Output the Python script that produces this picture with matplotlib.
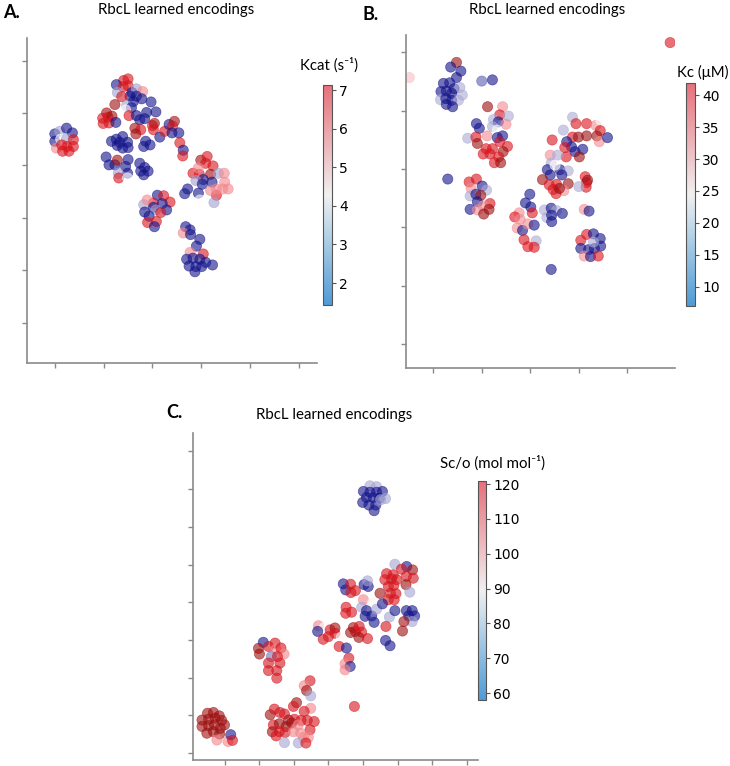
import matplotlib
matplotlib.use("Agg")
import matplotlib.pyplot as plt
from matplotlib.colors import LinearSegmentedColormap, Normalize
from matplotlib.cm import ScalarMappable

# ---- Panel A: Kcat (s-1) ----
kcat_x = [
    0.00, 0.10, 0.24, 0.36, 0.00, 0.12, 0.24, 0.38, 0.03, 0.14, 0.25, 0.38, 0.16, 0.29,
    1.41, 1.50, 1.26, 1.40, 1.50, 1.28, 1.58, 1.67, 1.80, 1.54, 1.37, 1.67, 1.78, 1.61,
    1.97, 1.23, 1.47, 1.57, 1.45, 1.82, 1.88, 2.07, 1.52, 1.67, 1.74, 1.84,
    1.06, 0.98, 1.09, 1.17, 0.99, 1.11, 1.25,
    2.00, 2.04, 2.02, 1.64, 1.76, 1.66, 2.15, 2.25, 2.34, 2.45, 2.41, 2.40, 2.54, 2.56, 2.63, 2.62,
    1.16, 1.26, 1.39, 1.49, 1.28, 1.39, 1.50, 1.33, 1.86, 1.82, 1.95,
    1.05, 1.11, 1.23, 1.28, 1.50, 1.45, 1.49, 1.30, 1.31, 1.49,
    1.74, 1.84, 1.91, 1.76, 1.82,
    2.99, 3.12, 3.09, 3.24, 2.83, 2.96, 2.94, 3.19, 3.04, 3.35, 3.47, 2.89, 3.02, 3.22,
    2.72, 2.66, 2.94, 3.31, 3.19, 3.31, 3.48, 3.44, 3.55, 2.97, 3.26,
    2.10, 2.23, 2.36, 2.02, 1.82, 1.89, 2.02, 2.20, 2.29, 1.84, 2.07, 2.17, 1.93, 2.08, 1.90, 2.04,
    2.68, 2.77, 2.63, 2.78, 2.97, 2.90, 2.77, 3.04, 2.70, 2.83, 2.97, 3.09, 3.23, 2.75, 2.89, 3.01, 2.87,
]
kcat_y = [
    3.60, 3.65, 3.71, 3.62, 3.46, 3.50, 3.50, 3.49, 3.33, 3.39, 3.36, 3.36, 3.27, 3.27,
    4.62, 4.65, 4.54, 4.50, 4.52, 4.39, 4.39, 4.46, 4.41, 4.32, 4.31, 4.32, 4.27, 4.22,
    4.21, 4.16, 4.14, 4.10, 4.06, 4.05, 4.01, 4.02, 3.95, 3.95, 3.87, 3.89,
    4.00, 3.90, 3.92, 3.94, 3.80, 3.81, 3.82,
    3.76, 3.80, 3.68, 3.71, 3.68, 3.60, 3.54, 3.65, 3.78, 3.84, 3.75, 3.62, 3.62, 3.43, 3.29, 3.18,
    3.46, 3.50, 3.55, 3.44, 3.38, 3.33, 3.34, 3.44, 3.46, 3.36, 3.39,
    3.16, 3.01, 3.01, 3.10, 3.11, 2.98, 2.85, 2.85, 2.76, 2.76,
    3.04, 2.96, 2.89, 2.89, 2.82,
    3.10, 3.17, 3.04, 2.99, 2.85, 2.83, 2.95, 2.83, 2.73, 2.85, 2.85, 2.71, 2.64, 2.68,
    2.55, 2.46, 2.47, 2.43, 2.52, 2.55, 2.68, 2.55, 2.55, 2.34, 2.29,
    2.43, 2.42, 2.30, 2.28, 2.25, 2.34, 2.20, 2.27, 2.15, 2.11, 2.15, 2.10, 2.03, 1.93, 1.91, 1.83,
    1.83, 1.77, 1.71, 1.68, 1.59, 1.46, 1.34, 1.31, 1.21, 1.23, 1.21, 1.15, 1.10, 1.08, 1.07, 1.07, 0.97,
]
kcat_val = [
    1.6, 3.2, 1.6, 1.6, 1.6, 4.3, 3.2, 6.3, 5.2, 6.3, 6.3, 6.3, 6.3, 6.3,
    6.3, 6.3, 1.6, 6.3, 6.3, 3.2, 1.6, 3.2, 5.2, 1.6, 6.3, 1.6, 1.6, 1.6,
    1.6, 7.0, 3.2, 1.6, 4.3, 4.3, 1.6, 1.6, 6.3, 1.6, 1.6, 1.6,
    7.0, 6.3, 6.3, 7.0, 6.3, 6.3, 1.6,
    6.3, 7.0, 6.3, 7.0, 6.3, 7.0, 1.6, 6.3, 1.6, 7.0, 6.3, 1.6, 1.6, 6.3, 1.6, 6.3,
    1.6, 1.6, 1.6, 1.6, 1.6, 1.6, 1.6, 1.6, 1.6, 1.6, 1.6,
    1.6, 1.6, 1.6, 7.0, 1.6, 1.6, 1.6, 3.2, 6.3, 4.3,
    1.6, 1.6, 1.6, 1.6, 1.6,
    7.0, 6.3, 6.3, 6.3, 6.3, 6.3, 5.2, 7.0, 1.6, 3.2, 5.2, 3.2, 1.6, 1.6,
    1.6, 1.6, 1.6, 6.3, 5.2, 5.2, 5.2, 5.2, 5.2, 4.3, 3.2,
    1.6, 6.3, 6.3, 6.3, 3.2, 5.2, 1.6, 1.6, 1.6, 1.6, 3.2, 6.3, 1.6, 6.3, 6.3, 1.6,
    1.6, 1.6, 5.2, 1.6, 1.6, 1.6, 5.2, 6.3, 1.6, 1.6, 1.6, 1.6, 1.6, 1.6, 1.6, 1.6, 1.6,
]
kcat_ticks = [2, 3, 4, 5, 6, 7]

# ---- Panel B: Kc (uM) ----
kc_x = [
    4.88, -0.49,
    0.48, 0.36, 0.57, 0.48, 0.21, 0.34, 0.43, 0.55, 0.16, 0.27, 0.38, 0.60, 0.15, 0.26,
    0.38, 0.52, 0.27, 0.40, 1.00, 1.22,
    1.12, 1.43, 1.37, 1.55, 0.89, 0.95, 1.24, 1.34, 1.22, 1.50, 1.32, 0.71, 0.88, 0.91,
    1.11, 1.32, 1.43, 1.37, 1.53, 1.09, 1.22, 1.44, 1.03, 1.17, 1.35, 1.26, 1.39,
    0.30,
    0.74, 0.89, 0.78, 1.01, 1.10, 0.76, 0.88, 0.98, 0.91, 1.17, 0.76, 0.91, 1.03, 1.15, 1.04,
    1.99, 1.90, 2.01, 2.04, 1.77, 1.68, 1.79, 1.73, 1.84, 1.95, 2.08, 1.87, 2.12, 1.95, 2.08,
    2.29, 2.43, 2.54, 2.66, 2.34, 2.44, 2.44,
    2.87, 2.94, 3.16, 3.35, 3.45, 3.44, 3.37, 3.42, 3.59, 2.68, 2.87, 2.99, 3.16, 2.45, 2.75,
    2.85, 2.71, 3.08, 2.92, 3.01, 2.74, 2.41, 2.56, 2.43, 2.35, 2.61, 2.51, 2.78, 2.41, 2.65,
    2.25, 2.39, 2.54, 2.78, 2.69, 2.53, 2.47, 2.60, 3.13, 3.16, 3.18, 3.15, 3.00, 3.11, 3.21,
    3.04, 3.16, 3.30, 3.44, 3.04, 3.20, 3.32, 3.45, 3.11, 3.24, 3.40, 3.30,
    2.43,
]
kc_y = [
    5.17, 4.57,
    4.83, 4.75, 4.68, 4.57, 4.47, 4.48, 4.38, 4.40, 4.33, 4.34, 4.30, 4.27, 4.19, 4.21,
    4.18, 4.18, 4.11, 4.07, 4.51, 4.53,
    4.07, 4.07, 3.93, 3.91, 3.78, 3.70, 3.85, 3.81, 3.73, 3.77, 3.67, 3.53, 3.55, 3.44,
    3.57, 3.54, 3.57, 3.47, 3.39, 3.35, 3.35, 3.30, 3.26, 3.26, 3.21, 3.11, 3.11,
    2.83,
    2.78, 2.83, 2.67, 2.71, 2.64, 2.54, 2.57, 2.55, 2.44, 2.41, 2.31, 2.30, 2.37, 2.31, 2.23,
    2.57, 2.42, 2.35, 2.25, 2.25, 2.18, 2.14, 1.99, 1.95, 2.06, 2.04, 1.79, 1.77, 1.67, 1.66,
    2.30, 2.33, 2.29, 2.24, 2.17, 2.21, 2.10,
    3.89, 3.78, 3.78, 3.75, 3.84, 3.66, 3.57, 3.47, 3.54, 3.67, 3.55, 3.55, 3.57, 3.50, 3.47,
    3.38, 3.37, 3.34, 3.30, 3.21, 3.21, 3.24, 3.24, 3.10, 2.99, 2.99, 3.07, 2.97, 2.90, 2.90,
    2.82, 2.73, 2.74, 2.75, 2.63, 2.58, 2.65, 2.67, 2.87, 2.77, 2.81, 2.69, 2.70, 2.31, 2.28,
    1.78, 1.88, 1.89, 1.81, 1.64, 1.62, 1.64, 1.68, 1.51, 1.50, 1.51, 1.75,
    1.28,
]
kc_val = [
    36.5, 27.5,
    41.5, 8, 8, 8, 8, 8, 8, 18.5, 8, 8, 8, 18.5, 18.5, 8,
    8, 18.5, 8, 8, 13, 8,
    41.5, 30, 36.5, 18.5, 8, 8, 18.5, 8, 18.5, 30, 24.5, 18.5, 36.5, 41.5,
    30, 8, 8, 36.5, 36.5, 36.5, 36.5, 41.5, 36.5, 36.5, 36.5, 36.5, 41.5,
    8,
    36.5, 36.5, 30, 8, 18.5, 18.5, 8, 41.5, 8, 36.5, 8, 30, 30, 41.5, 41.5,
    8, 8, 8, 36.5, 30, 36.5, 30, 30, 8, 30, 8, 36.5, 18.5, 36.5, 36.5,
    18.5, 8, 18.5, 8, 18.5, 8, 8,
    18.5, 36.5, 36.5, 30, 24.5, 36.5, 41.5, 30, 8, 18.5, 36.5, 41.5, 41.5, 36.5, 8,
    8, 36.5, 8, 8, 41.5, 36.5, 30, 18.5, 18.5, 8, 8, 24.5, 18.5, 8, 8,
    41.5, 36.5, 36.5, 41.5, 30, 36.5, 36.5, 41.5, 36.5, 36.5, 41.5, 36.5, 18.5, 30, 8,
    36.5, 36.5, 8, 8, 8, 8, 8, 8, 30, 8, 36.5, 18.5,
    8,
]
kc_ticks = [10, 15, 20, 25, 30, 35, 40]

# ---- Panel C: Sc/o (mol mol-1) ----
sco_x = [
    4.20, 4.39, 4.01, 4.20, 4.39, 4.56, 4.10, 4.29, 4.47, 4.65, 3.99, 4.17, 4.37, 4.32, 4.51,
    4.92, 5.26, 4.68, 4.87, 5.11, 5.43, 5.45, 4.63, 4.82, 4.97, 5.25, 5.24, 4.73, 4.89, 5.35,
    4.49, 4.79, 4.95, 4.73, 4.90,
    3.43, 3.50, 3.64, 3.65, 3.78, 4.03, 4.15, 4.13, 4.01, 4.27, 3.96, 4.10, 4.25, 4.06, 4.39,
    4.56, 4.76, 4.92, 4.32, 3.51, 3.67, 3.50, 5.25, 5.42, 5.49, 5.32, 5.42, 5.18, 5.14, 4.66,
    4.65, 4.78,
    2.71, 2.88, 2.69, 3.05, 3.19, 3.19, 2.85, 3.00, 3.37, 3.72, 3.89, 3.78, 3.64, 3.96, 3.88,
    4.13, 3.31, 3.52, 3.59, 3.48, 3.63, 3.48, 3.75,
    1.12, 0.98, 1.01, 1.27, 1.46, 1.49, 1.63, 1.72, 1.35, 1.53, 1.27, 1.60, 1.27, 1.51, 1.51,
    -0.49, -0.32, -0.15, -0.65, -0.46, -0.27, -0.08, 0.00, -0.65, -0.46, -0.29, -0.12, -0.51,
    -0.32, -0.14, -0.22, 0.10, 0.18, 0.23,
    2.47, 2.30, 2.37, 2.49, 2.08, 1.99, 2.49, 1.32, 1.44, 1.60, 1.73, 2.30, 1.85, 2.02, 2.21,
    2.39, 2.59, 1.41, 1.58, 1.78, 1.94, 2.13, 2.47, 1.38, 1.58, 1.75, 1.99, 2.20, 2.28, 2.42,
    1.49, 1.73, 2.13, 2.35,
]
sco_y = [
    7.09, 7.07, 6.94, 6.92, 6.92, 6.94, 6.78, 6.78, 6.76, 6.75, 6.65, 6.58, 6.58, 6.43, 6.72,
    5.01, 4.95, 4.76, 4.73, 4.88, 4.86, 4.64, 4.60, 4.62, 4.60, 4.69, 4.47, 4.42, 4.45, 4.27,
    4.24, 4.24, 4.23, 4.07, 4.07,
    4.49, 4.33, 4.48, 4.26, 4.31, 4.47, 4.42, 4.57, 4.07, 3.98, 3.87, 3.78, 3.64, 3.63, 3.82,
    3.96, 3.61, 3.78, 3.47, 3.87, 3.74, 3.71, 3.78, 3.78, 3.64, 3.64, 3.49, 3.49, 3.24, 3.36,
    2.99, 2.85,
    3.38, 3.33, 3.23, 3.27, 3.32, 3.18, 3.02, 3.09, 3.07, 3.33, 3.36, 3.23, 3.20, 3.21, 3.07,
    3.04, 2.83, 2.79, 2.52, 2.37, 2.30, 2.21, 1.24,
    2.94, 2.78, 2.63, 2.83, 2.92, 2.76, 2.79, 2.63, 2.56, 2.56, 2.39, 2.39, 2.19, 2.19, 1.99,
    1.06, 1.08, 0.99, 0.88, 0.90, 0.93, 0.87, 0.75, 0.71, 0.73, 0.75, 0.66, 0.53,
    0.57, 0.51, 0.35, 0.31, 0.49, 0.34,
    1.92, 1.79, 1.66, 1.52, 1.34, 1.24, 1.19, 1.02, 1.17, 1.08, 1.04, 1.11, 0.88, 0.90, 0.87,
    0.87, 0.84, 0.75, 0.78, 0.71, 0.80, 0.75, 0.62, 0.57, 0.57, 0.55, 0.57, 0.53, 0.42, 0.42,
    0.46, 0.28, 0.27, 0.27,
]
sco_val = [
    78, 78, 60, 60, 60, 60, 60, 60, 60, 78, 60, 60, 60, 60, 78,
    78, 60, 112, 112, 112, 120, 112, 112, 112, 112, 112, 120, 112, 112, 78,
    120, 112, 112, 112, 112,
    60, 60, 112, 112, 112, 60, 60, 78, 100, 90, 78, 60, 60, 60, 78,
    60, 78, 60, 60, 112, 112, 112, 60, 60, 60, 60, 78, 120, 120, 112,
    60, 60,
    100, 90, 60, 112, 120, 112, 112, 112, 90, 120, 112, 112, 120, 112, 120,
    112, 112, 60, 112, 100, 60, 100, 112,
    60, 120, 120, 112, 112, 100, 112, 100, 72, 112, 112, 112, 112, 112, 112,
    120, 120, 120, 120, 120, 120, 120, 120, 120, 120, 120, 120, 120,
    120, 120, 100, 100, 60, 112,
    112, 100, 120, 78, 120, 112, 100, 120, 112, 112, 112, 112, 120, 112, 112,
    112, 112, 112, 120, 120, 120, 100, 112, 120, 112, 112, 100, 100, 100, 100,
    112, 78, 78, 112,
]
sco_ticks = [60, 70, 80, 90, 100, 110, 120]

W, H = 730, 766

# point colours: navy -> white -> red -> dark red, drawn with alpha
point_cmap = LinearSegmentedColormap.from_list(
    "points", [(0.0, (0.02, 0.02, 0.52)), (0.5, (1, 1, 1)),
               (0.82, (0.9, 0.08, 0.12)), (1.0, (0.6, 0.05, 0.05))])
bar_cmap = LinearSegmentedColormap.from_list(
    "bar", ["#4e9bd6", "#f0f0f0", "#e7707a"])

TXT = ["Lato", "DejaVu Sans"]


def box(x0, y0, x1, y1):
    return [x0 / W, 1 - y1 / H, (x1 - x0) / W, (y1 - y0) / H]


def fig_text(fig, px, py, s, **kw):
    fig.text(px / W, 1 - py / H, s, **kw)


def panel(fig, ax_px, cb_px, x, y, val, lim, ticks, vlim, cticks):
    ax = fig.add_axes(box(*ax_px))
    ax.scatter(x, y, c=val, cmap=point_cmap, vmin=vlim[0], vmax=vlim[1],
               s=54, alpha=0.6, linewidths=0.5)
    ax.set_xlim(*lim[0])
    ax.set_ylim(*lim[1])
    ax.set_xticks(ticks[0])
    ax.set_yticks(ticks[1])
    ax.set_xticklabels([])
    ax.set_yticklabels([])
    for side in ("top", "right"):
        ax.spines[side].set_visible(False)
    for side in ("left", "bottom"):
        ax.spines[side].set_color("#8a8a8a")
        ax.spines[side].set_linewidth(1.2)
    ax.tick_params(length=3.5, width=1, color="#8a8a8a")

    cax = fig.add_axes(box(*cb_px))
    sm = ScalarMappable(norm=Normalize(*vlim), cmap=bar_cmap)
    cb = fig.colorbar(sm, cax=cax, ticks=cticks)
    cb.outline.set_edgecolor("#555555")
    cb.outline.set_linewidth(0.8)
    cax.tick_params(labelsize=10, length=3, width=0.8, color="#555555", pad=2)
    return ax


fig = plt.figure(figsize=(W / 100, H / 100), dpi=100)

panel(fig, (27, 38, 317, 363), (323, 85, 332, 305), kcat_x, kcat_y, kcat_val,
      ((-0.57, 5.37), (-0.77, 5.43)), (range(6), range(6)), (1.43, 7.13), kcat_ticks)
panel(fig, (406, 35, 675, 368), (686, 83, 695, 306), kc_x, kc_y, kc_val,
      ((-0.56, 4.98), (-0.41, 5.30)), (range(5), range(6)), (7.0, 41.9), kc_ticks)
panel(fig, (193, 433, 478, 760), (478, 481, 486, 700), sco_x, sco_y, sco_val,
      ((-0.91, 7.32), (-0.18, 8.49)), (range(8), range(9)), (58, 120.9), sco_ticks)

title_kw = dict(family=TXT, fontsize=10.8, ha="center", va="center")
fig_text(fig, 176, 10, "RbcL learned encodings", **title_kw)
fig_text(fig, 547, 10, "RbcL learned encodings", **title_kw)
fig_text(fig, 334, 415, "RbcL learned encodings", **title_kw)

letter_kw = dict(family=TXT, fontsize=13, fontweight="bold", ha="left", va="center")
fig_text(fig, 3, 13, "A.", **letter_kw)
fig_text(fig, 362, 15, "B.", **letter_kw)
fig_text(fig, 166, 413, "C.", **letter_kw)

label_kw = dict(family=TXT, fontsize=10.8, ha="center", va="center")
fig_text(fig, 329, 65, "Kcat (s\u207b\u00b9)", **label_kw)
fig_text(fig, 703, 72, "Kc (\u03bcM)", **label_kw)
fig_text(fig, 493, 463, "Sc/o (mol mol\u207b\u00b9)", **label_kw)

fig.savefig("out.png", dpi=100)
